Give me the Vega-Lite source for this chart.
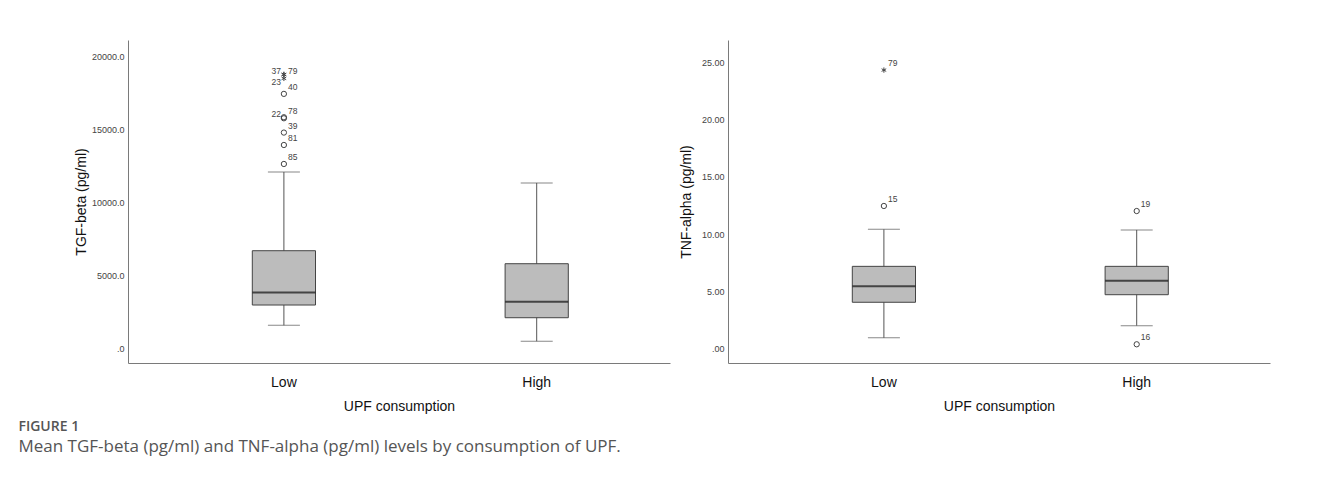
{
  "$schema": "https://vega.github.io/schema/vega-lite/v6.json",
  "background": "white",
  "padding": {"left": 18, "top": 40, "right": 10, "bottom": 12},
  "datasets": {
    "tgf_box": [
      {"group": "Low", "lower": 1620, "q1": 3010, "median": 3860, "q3": 6730, "upper": 12120},
      {"group": "High", "lower": 530, "q1": 2140, "median": 3240, "q3": 5840, "upper": 11370}
    ],
    "tgf_out": [
      {"group": "Low", "value": 18800, "case": "37", "kind": "extreme", "side": "left"},
      {"group": "Low", "value": 18800, "case": "79", "kind": "extreme", "side": "rightmid"},
      {"group": "Low", "value": 18530, "case": "23", "kind": "extreme", "side": "leftdown"},
      {"group": "Low", "value": 17470, "case": "40", "kind": "outlier", "side": "right"},
      {"group": "Low", "value": 15870, "case": "22", "kind": "outlier", "side": "left"},
      {"group": "Low", "value": 15800, "case": "78", "kind": "outlier", "side": "right"},
      {"group": "Low", "value": 14820, "case": "39", "kind": "outlier", "side": "right"},
      {"group": "Low", "value": 13970, "case": "81", "kind": "outlier", "side": "right"},
      {"group": "Low", "value": 12670, "case": "85", "kind": "outlier", "side": "right"}
    ],
    "tnf_box": [
      {"group": "Low", "lower": 0.97, "q1": 4.07, "median": 5.46, "q3": 7.2, "upper": 10.43},
      {"group": "High", "lower": 2.03, "q1": 4.73, "median": 5.95, "q3": 7.2, "upper": 10.37}
    ],
    "tnf_out": [
      {"group": "Low", "value": 24.3, "case": "79", "kind": "extreme", "side": "right"},
      {"group": "Low", "value": 12.46, "case": "15", "kind": "outlier", "side": "right"},
      {"group": "High", "value": 12.02, "case": "19", "kind": "outlier", "side": "right"},
      {"group": "High", "value": 0.41, "case": "16", "kind": "outlier", "side": "right"}
    ]
  },
  "title": {
    "text": "FIGURE 1",
    "subtitle": "Mean TGF-beta (pg/ml) and TNF-alpha (pg/ml) levels by consumption of UPF.",
    "orient": "bottom",
    "anchor": "start",
    "dx": -56,
    "offset": 7,
    "font": "Open Sans",
    "fontSize": 14,
    "fontWeight": 600,
    "color": "#555555",
    "subtitleFont": "Open Sans",
    "subtitleFontSize": 17,
    "subtitleColor": "#555555",
    "subtitlePadding": 5
  },
  "spacing": 9,
  "config": {
    "view": {"stroke": null},
    "axis": {
      "domainColor": "#7a7a7a",
      "domainWidth": 1,
      "ticks": false,
      "grid": false,
      "labelFont": "Liberation Sans",
      "titleFont": "Liberation Sans",
      "titleFontWeight": "normal",
      "titleFontSize": 14,
      "titleColor": "#111111"
    }
  },
  "hconcat": [
    {
      "width": 542,
      "height": 323,
      "layer": [
        {
          "data": {"name": "tgf_box"},
          "mark": {"type": "rule", "color": "#555555", "strokeWidth": 1},
          "encoding": {
            "x": {"field": "group", "type": "nominal", "sort": ["Low", "High"],
                  "scale": {"paddingInner": 0.75, "paddingOuter": 0.447, "align": 0.55},
                  "axis": {"title": "UPF consumption", "labelAngle": 0, "labelFontSize": 14, "labelColor": "#111111", "labelPadding": 12, "titlePadding": 10}},
            "y": {"field": "lower", "type": "quantitative",
                  "scale": {"domain": [-960, 21160], "nice": false, "zero": false},
                  "axis": {"title": "TGF-beta (pg/ml)", "values": [0, 5000, 10000, 15000, 20000],
                           "labelExpr": "datum.value == 0 ? '.0' : format(datum.value, '.1f')",
                           "labelFontSize": 9, "labelColor": "#444444", "labelPadding": 4, "titlePadding": 3}},
            "y2": {"field": "upper"}
          }
        },
        {
          "data": {"name": "tgf_box"},
          "mark": {"type": "tick", "color": "#555555", "size": 32, "thickness": 1},
          "encoding": {
            "x": {"field": "group", "type": "nominal", "sort": ["Low", "High"]},
            "y": {"field": "upper", "type": "quantitative"}
          }
        },
        {
          "data": {"name": "tgf_box"},
          "mark": {"type": "tick", "color": "#555555", "size": 32, "thickness": 1},
          "encoding": {
            "x": {"field": "group", "type": "nominal", "sort": ["Low", "High"]},
            "y": {"field": "lower", "type": "quantitative"}
          }
        },
        {
          "data": {"name": "tgf_box"},
          "mark": {"type": "bar", "fill": "#bcbcbc", "stroke": "#444444", "strokeWidth": 1},
          "encoding": {
            "x": {"field": "group", "type": "nominal", "sort": ["Low", "High"]},
            "y": {"field": "q1", "type": "quantitative"},
            "y2": {"field": "q3"}
          }
        },
        {
          "data": {"name": "tgf_box"},
          "mark": {"type": "tick", "color": "#111111", "size": 63, "thickness": 2},
          "encoding": {
            "x": {"field": "group", "type": "nominal", "sort": ["Low", "High"]},
            "y": {"field": "median", "type": "quantitative"}
          }
        },
        {
          "data": {"name": "tgf_out"},
          "mark": {"type": "point", "filled": false, "stroke": "#444444", "strokeWidth": 1, "size": 28, "opacity": 1},
          "encoding": {
            "x": {"field": "group", "type": "nominal", "sort": ["Low", "High"]},
            "y": {"field": "value", "type": "quantitative"},
            "shape": {"field": "kind", "type": "nominal", "legend": null,
                      "scale": {"domain": ["outlier", "extreme"], "range": ["circle", "M0,-1L0,1M-0.87,-0.5L0.87,0.5M-0.87,0.5L0.87,-0.5"]}}
          }
        },
        {
          "data": {"name": "tgf_out"},
          "transform": [{"filter": "datum.side == 'right'"}],
          "mark": {"type": "text", "align": "left", "baseline": "middle", "dx": 4, "dy": -7, "font": "Liberation Sans", "fontSize": 8.5, "color": "#444444"},
          "encoding": {
            "x": {"field": "group", "type": "nominal", "sort": ["Low", "High"]},
            "y": {"field": "value", "type": "quantitative"},
            "text": {"field": "case"}
          }
        },
        {
          "data": {"name": "tgf_out"},
          "transform": [{"filter": "datum.side == 'rightmid'"}],
          "mark": {"type": "text", "align": "left", "baseline": "middle", "dx": 4, "dy": -3, "font": "Liberation Sans", "fontSize": 8.5, "color": "#444444"},
          "encoding": {
            "x": {"field": "group", "type": "nominal", "sort": ["Low", "High"]},
            "y": {"field": "value", "type": "quantitative"},
            "text": {"field": "case"}
          }
        },
        {
          "data": {"name": "tgf_out"},
          "transform": [{"filter": "datum.side == 'left'"}],
          "mark": {"type": "text", "align": "right", "baseline": "middle", "dx": -3, "dy": -3, "font": "Liberation Sans", "fontSize": 8.5, "color": "#444444"},
          "encoding": {
            "x": {"field": "group", "type": "nominal", "sort": ["Low", "High"]},
            "y": {"field": "value", "type": "quantitative"},
            "text": {"field": "case"}
          }
        },
        {
          "data": {"name": "tgf_out"},
          "transform": [{"filter": "datum.side == 'leftdown'"}],
          "mark": {"type": "text", "align": "right", "baseline": "middle", "dx": -3, "dy": 4, "font": "Liberation Sans", "fontSize": 8.5, "color": "#444444"},
          "encoding": {
            "x": {"field": "group", "type": "nominal", "sort": ["Low", "High"]},
            "y": {"field": "value", "type": "quantitative"},
            "text": {"field": "case"}
          }
        }
      ]
    },
    {
      "width": 542,
      "height": 323,
      "layer": [
        {
          "data": {"name": "tnf_box"},
          "mark": {"type": "rule", "color": "#555555", "strokeWidth": 1},
          "encoding": {
            "x": {"field": "group", "type": "nominal", "sort": ["Low", "High"],
                  "scale": {"paddingInner": 0.75, "paddingOuter": 0.447, "align": 0.55},
                  "axis": {"title": "UPF consumption", "labelAngle": 0, "labelFontSize": 14, "labelColor": "#111111", "labelPadding": 12, "titlePadding": 10}},
            "y": {"field": "lower", "type": "quantitative",
                  "scale": {"domain": [-1.22, 26.92], "nice": false, "zero": false},
                  "axis": {"title": "TNF-alpha (pg/ml)", "values": [0, 5, 10, 15, 20, 25],
                           "labelExpr": "datum.value == 0 ? '.00' : format(datum.value, '.2f')",
                           "labelFontSize": 9, "labelColor": "#444444", "labelPadding": 4, "titlePadding": 8}},
            "y2": {"field": "upper"}
          }
        },
        {
          "data": {"name": "tnf_box"},
          "mark": {"type": "tick", "color": "#555555", "size": 32, "thickness": 1},
          "encoding": {
            "x": {"field": "group", "type": "nominal", "sort": ["Low", "High"]},
            "y": {"field": "upper", "type": "quantitative"}
          }
        },
        {
          "data": {"name": "tnf_box"},
          "mark": {"type": "tick", "color": "#555555", "size": 32, "thickness": 1},
          "encoding": {
            "x": {"field": "group", "type": "nominal", "sort": ["Low", "High"]},
            "y": {"field": "lower", "type": "quantitative"}
          }
        },
        {
          "data": {"name": "tnf_box"},
          "mark": {"type": "bar", "fill": "#bcbcbc", "stroke": "#444444", "strokeWidth": 1},
          "encoding": {
            "x": {"field": "group", "type": "nominal", "sort": ["Low", "High"]},
            "y": {"field": "q1", "type": "quantitative"},
            "y2": {"field": "q3"}
          }
        },
        {
          "data": {"name": "tnf_box"},
          "mark": {"type": "tick", "color": "#111111", "size": 63, "thickness": 2},
          "encoding": {
            "x": {"field": "group", "type": "nominal", "sort": ["Low", "High"]},
            "y": {"field": "median", "type": "quantitative"}
          }
        },
        {
          "data": {"name": "tnf_out"},
          "mark": {"type": "point", "filled": false, "stroke": "#444444", "strokeWidth": 1, "size": 28, "opacity": 1},
          "encoding": {
            "x": {"field": "group", "type": "nominal", "sort": ["Low", "High"]},
            "y": {"field": "value", "type": "quantitative"},
            "shape": {"field": "kind", "type": "nominal", "legend": null,
                      "scale": {"domain": ["outlier", "extreme"], "range": ["circle", "M0,-1L0,1M-0.87,-0.5L0.87,0.5M-0.87,0.5L0.87,-0.5"]}}
          }
        },
        {
          "data": {"name": "tnf_out"},
          "mark": {"type": "text", "align": "left", "baseline": "middle", "dx": 4, "dy": -7, "font": "Liberation Sans", "fontSize": 8.5, "color": "#444444"},
          "encoding": {
            "x": {"field": "group", "type": "nominal", "sort": ["Low", "High"]},
            "y": {"field": "value", "type": "quantitative"},
            "text": {"field": "case"}
          }
        }
      ]
    }
  ]
}
